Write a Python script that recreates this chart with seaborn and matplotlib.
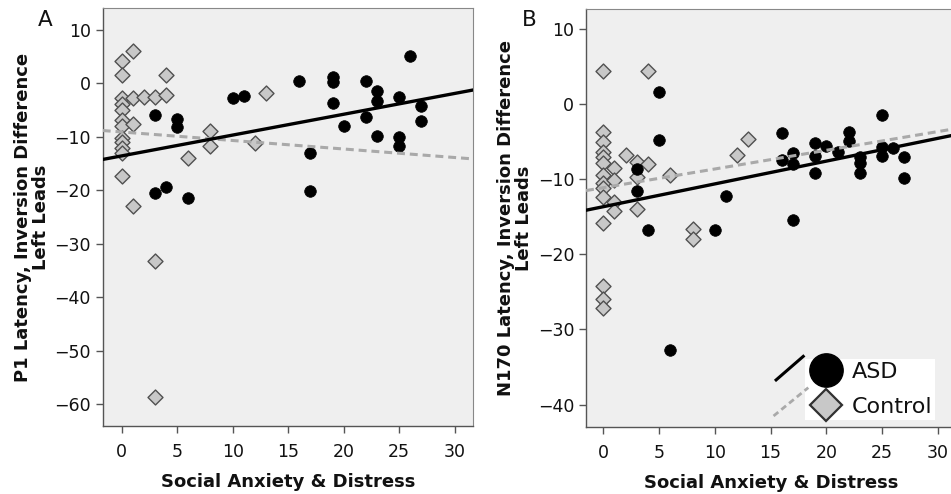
import numpy as np
import pandas as pd
import matplotlib
matplotlib.use("Agg")
import matplotlib.pyplot as plt
import seaborn as sns
from matplotlib.legend_handler import HandlerBase
from matplotlib.lines import Line2D

# ---------------- data ----------------
x_ticks = [0, 5, 10, 15, 20, 25, 30]
yticks_a = [10, 0, -10, -20, -30, -40, -50, -60]
yticks_b = [10, 0, -10, -20, -30, -40]

a_asd_x = [3, 5, 5, 3, 4, 6, 10, 11, 16, 19, 19, 19, 20, 22, 22, 23, 23, 23, 25, 25, 25, 26, 27, 27, 17, 17]
a_asd_y = [-6, -6.7, -8.2, -20.5, -19.3, -21.4, -2.7, -2.4, 0.5, 1.2, 0.3, -3.6, -8, 0.5, -6.2, -1.45,
           -3.25, -9.8, -2.5, -10, -11.7, 5.1, -4.2, -7, -13.1, -20.1]
a_ctl_x = [1, 0, 0, 4, 0, 0, 0, 0, 0, 0, 0, 0, 0, 0, 1, 2, 3, 4, 1, 1, 6, 8, 8, 12, 13, 3, 3]
a_ctl_y = [6.1, 4.2, 1.55, 1.5, -2.8, -3.8, -5.0, -6.8, -8.0, -10.3, -11.0, -12.0, -13.0, -17.3, -2.8,
           -2.5, -2.5, -2.2, -7.6, -23, -14, -8.9, -11.7, -11.1, -1.75, -33.2, -58.6]

b_asd_x = [5, 5, 3, 3, 11, 4, 10, 6, 16, 16, 17, 17, 17, 19, 19, 19, 20, 21, 22, 22, 23, 23, 23, 25, 25, 25, 26, 27, 27]
b_asd_y = [1.7, -4.8, -11.6, -8.6, -12.2, -16.8, -16.7, -32.8, -3.8, -7.35, -6.5, -7.9, -15.4, -5.2, -6.9,
           -9.1, -5.6, -6.3, -3.65, -4.85, -7.0, -7.8, -9.2, -1.35, -5.65, -6.9, -5.75, -7.0, -9.8]
b_ctl_x = [0, 0, 0, 0, 0, 0, 0, 0, 0, 0, 0, 0, 0, 0, 4, 2, 3, 4, 1, 1, 3, 6, 12, 13, 1, 1, 3, 8, 8]
b_ctl_y = [4.5, -3.65, -5.0, -6.3, -7.0, -7.8, -9.4, -10.5, -11.2, -12.3, -15.8, -24.2, -25.9, -27.1,
           4.5, -6.8, -7.7, -8.0, -8.5, -10.1, -9.7, -9.4, -6.8, -4.55, -13.0, -14.2, -14.0, -16.6, -18.0]

groups = ["ASD", "Control"]
xlabel = "Social Anxiety & Distress"
ylabel_a = "P1 Latency, Inversion Difference\nLeft Leads"
ylabel_b = "N170 Latency, Inversion Difference\nLeft Leads"

# ---------------- style ----------------
sns.set_theme(style="white")
plt.rcParams["font.family"] = ["DejaVu Sans"]
plt.rcParams["axes.unicode_minus"] = True

BG = "#efefef"
SPINE = "#555555"
DASH = "#a9a9a9"
TXT = "#111111"

fig = plt.figure(figsize=(9.51, 4.94), dpi=100)
ax_a = fig.add_axes([0.108, 0.1377, 0.3894, 0.846])
ax_b = fig.add_axes([0.6162, 0.1356, 0.3894, 0.846])


def draw_panel(ax, ax_x, ay, cx, cy, xlim, ylim, yticks, ylabel):
    ax.set_facecolor(BG)
    ax.set_xlim(*xlim)
    ax.set_ylim(*ylim)
    df_asd = pd.DataFrame({"x": ax_x, "y": ay})
    df_ctl = pd.DataFrame({"x": cx, "y": cy})
    sns.scatterplot(data=df_ctl, x="x", y="y", ax=ax, marker="D", s=58,
                    color="#c8c8c8", edgecolor="#505050", linewidth=1.0, zorder=2)
    sns.scatterplot(data=df_asd, x="x", y="y", ax=ax, marker="o", s=70,
                    color="black", edgecolor="black", linewidth=0.5, zorder=2)
    sns.regplot(data=df_ctl, x="x", y="y", ax=ax, scatter=False, ci=None, truncate=False,
                line_kws=dict(color=DASH, lw=2.2, dashes=(2.6, 1.6), zorder=3))
    sns.regplot(data=df_asd, x="x", y="y", ax=ax, scatter=False, ci=None, truncate=False,
                line_kws=dict(color="black", lw=2.4, zorder=4))
    ax.set_xlim(*xlim)
    ax.set_ylim(*ylim)
    ax.set_xticks(x_ticks)
    ax.set_yticks(yticks)
    ax.tick_params(axis="both", which="both", direction="out", length=5, width=1.0,
                   color=SPINE, labelsize=12.5, labelcolor=TXT, bottom=True, left=True)
    ax.tick_params(axis="x", pad=7)
    ax.tick_params(axis="y", pad=3.5)
    for side in ["left", "bottom"]:
        ax.spines[side].set_color(SPINE)
        ax.spines[side].set_linewidth(1.0)
    for side in ["top", "right"]:
        ax.spines[side].set_color("#888888")
        ax.spines[side].set_linewidth(0.8)
    ax.set_xlabel(xlabel, fontsize=13, fontweight="bold", color=TXT, labelpad=9)
    ax.set_ylabel(ylabel, fontsize=13, fontweight="bold", color=TXT,
                  multialignment="center", linespacing=1.0)
    ax.yaxis.set_label_coords(-0.142, 0.5)


draw_panel(ax_a, a_asd_x, a_asd_y, a_ctl_x, a_ctl_y, (-1.7, 31.65), (-64.1, 14.1), yticks_a, ylabel_a)
draw_panel(ax_b, b_asd_x, b_asd_y, b_ctl_x, b_ctl_y, (-1.55, 31.65), (-43.0, 12.7), yticks_b, ylabel_b)

fig.text(0.040, 0.947, "A", fontsize=15.5, color=TXT)
fig.text(0.549, 0.947, "B", fontsize=15.5, color=TXT)


# ---------------- legend ----------------
class DiagHandler(HandlerBase):
    def __init__(self, seg, line_kw, mk_kw):
        super().__init__()
        self.seg = seg
        self.line_kw = line_kw
        self.mk_kw = mk_kw

    def create_artists(self, legend, orig_handle, xdescent, ydescent, width, height, fontsize, trans):
        cx = -xdescent + width / 2
        cy = -ydescent + height / 2
        (dx0, dy0), (dx1, dy1) = self.seg
        ln = Line2D([cx + dx0, cx + dx1], [cy + dy0, cy + dy1], transform=trans, **self.line_kw)
        mk = Line2D([cx], [cy], linestyle="none", transform=trans, **self.mk_kw)
        return [ln, mk]


h_asd = Line2D([], [], color="black")
h_ctl = Line2D([], [], color=DASH)
handler_map = {
    h_asd: DiagHandler(((-37, -7.6), (-15.8, 10.8)),
                       dict(color="black", lw=2.2, solid_capstyle="butt"),
                       dict(marker="o", markersize=24, mfc="black", mec="black")),
    h_ctl: DiagHandler(((-38, -7.7), (-13, 12.7)),
                       dict(color=DASH, lw=2.0, dashes=(2.2, 1.4)),
                       dict(marker="D", markersize=16.5, mfc="#c8c8c8", mec="#303030", mew=1.6)),
}
leg = ax_b.legend([h_asd, h_ctl], groups, handler_map=handler_map, loc="lower left",
                  bbox_to_anchor=(0.592, 0.016), frameon=True, fancybox=False,
                  facecolor="white", edgecolor="none", framealpha=1.0, fontsize=16,
                  handlelength=1.6, handleheight=0.8, handletextpad=0.33, labelspacing=0.66,
                  borderpad=0.15, borderaxespad=0)
for t in leg.get_texts():
    t.set_color(TXT)

fig.savefig("out.png", dpi=100, facecolor="white")
